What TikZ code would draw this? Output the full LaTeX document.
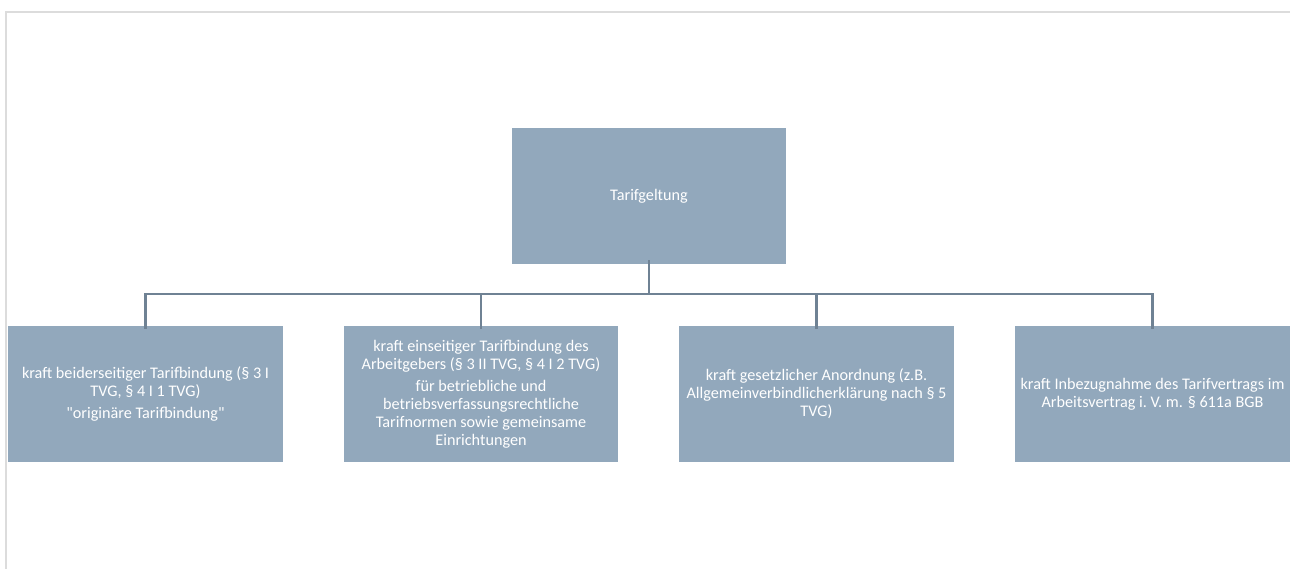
\documentclass[tikz,border=0pt]{standalone}
\usepackage{fontspec}
\setmainfont{Carlito}[Ligatures=TeXOff]
\definecolor{boxfill}{HTML}{92A8BC}
\definecolor{connc}{HTML}{6F8294}
\definecolor{frame}{HTML}{DCDCDC}
\begin{document}
\begin{tikzpicture}[x=1pt,y=-1pt,
  box/.style={fill=boxfill,draw=none,text=white,align=center,
    minimum width=275pt,minimum height=136pt,inner sep=0pt,
    font=\fontsize{16.2}{18}\selectfont},
  conn/.style={draw=connc,line width=2.6pt}]
\useasboundingbox (0,0) rectangle (1290,569);
\fill[white] (0,0) rectangle (1290,569);
\draw[frame,line width=2pt] (6,569) -- (6,12) -- (1290,12);
\node[box,minimum width=274pt] (top) at (649,196) {Tarifgeltung};
\node[box] (b1) at (145.5,394) {kraft beiderseitiger Tarifbindung (§ 3 I\\TVG, § 4 I 1 TVG)\\[4pt]"originäre Tarifbindung"};
\node[box,minimum width=274pt] (b2) at (481,394) {kraft einseitiger Tarifbindung des\\Arbeitgebers (§ 3 II TVG, § 4 I 2 TVG)\\[4pt]für betriebliche und\\betriebsverfassungsrechtliche\\Tarifnormen sowie gemeinsame\\Einrichtungen};
\node[box] (b3) at (816.5,394) {kraft gesetzlicher Anordnung (z.B.\\Allgemeinverbindlicherklärung nach § 5\\TVG)};
\node[box] (b4) at (1152.5,394) {kraft Inbezugnahme des Tarifvertrags im\\Arbeitsvertrag i.\ V.\ m. § 611a BGB};
\coordinate (bus) at (649,294);
\draw[conn] ([yshift=4pt]top.south) -- (top |- bus);
\draw[conn] ([xshift=-1.3pt]b1 |- bus) -- ([xshift=1.3pt]b4 |- bus);
\foreach \n in {b1,b2,b3,b4}{
  \draw[conn] (\n |- bus) -- ([yshift=-3pt]\n.north);
}
\end{tikzpicture}
\end{document}
